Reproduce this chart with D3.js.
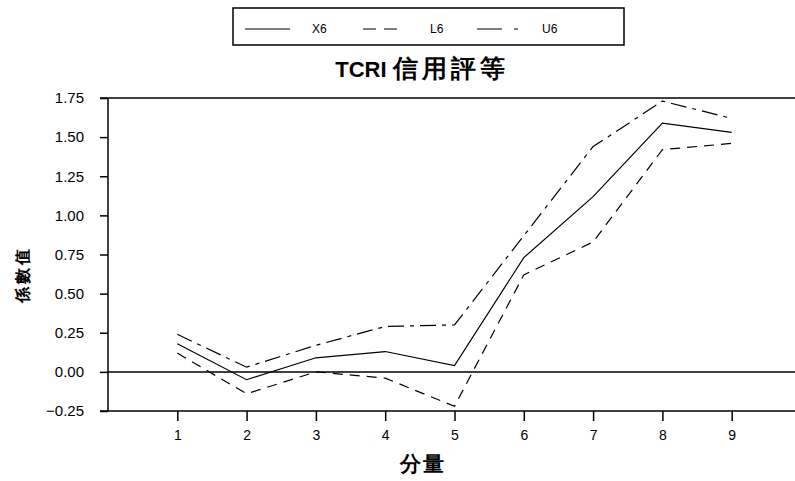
<!DOCTYPE html>
<html>
<head>
<meta charset="utf-8">
<script src="https://cdn.jsdelivr.net/npm/d3@7"></script>
<style>
  body { margin: 0; background: #fff; }
  text { font-family: "Liberation Sans", Arial, sans-serif; fill: #000; }
</style>
</head>
<body>
<svg id="chart"></svg>
<script>
/*
		 DATA
*/
var components = [1, 2, 3, 4, 5, 6, 7, 8, 9];
var x6 = [0.18, -0.05, 0.09, 0.13, 0.04, 0.73, 1.12, 1.59, 1.53];
var l6 = [0.12, -0.14, 0.00, -0.04, -0.22, 0.62, 0.83, 1.42, 1.46];
var u6 = [0.24, 0.03, 0.17, 0.29, 0.30, 0.87, 1.44, 1.73, 1.62];
var yTicks = [-0.25, 0, 0.25, 0.5, 0.75, 1, 1.25, 1.5, 1.75];
var seriesNames = ["X6", "L6", "U6"];

/*
		 LAYOUT
*/
var width = 795;
var height = 481;
var plot = {left: 108, top: 98, bottom: 411, right: 795};

var svg = d3.select("#chart")
    .attr("width", width)
    .attr("height", height);

var x = d3.scaleLinear().domain([0, 10]).range([plot.left, 801]);
var y = d3.scaleLinear().domain([-0.25, 1.75]).range([plot.bottom, plot.top]);

// frame lines: left side, top, bottom (right side stays open)
var frame = svg.append("g").attr("stroke", "#000").attr("stroke-width", 1.5);
frame.append("line").attr("x1", plot.left).attr("x2", plot.left)
    .attr("y1", y(1.75)).attr("y2", y(-0.25));
frame.append("line").attr("x1", plot.left - 8).attr("x2", plot.right)
    .attr("y1", y(1.75)).attr("y2", y(1.75));
frame.append("line").attr("x1", plot.left - 8).attr("x2", plot.right)
    .attr("y1", y(-0.25)).attr("y2", y(-0.25));
// zero reference line
frame.append("line").attr("x1", plot.left).attr("x2", plot.right)
    .attr("y1", y(0)).attr("y2", y(0));

// y axis
var yAxis = svg.append("g")
    .attr("transform", "translate(" + plot.left + ",0)")
    .call(d3.axisLeft(y).tickValues(yTicks).tickFormat(d3.format(".2f"))
        .tickSize(8).tickSizeOuter(0).tickPadding(16));
yAxis.select(".domain").remove();
yAxis.selectAll("line").attr("stroke", "#000").attr("stroke-width", 1.5);
yAxis.selectAll("text").style("font-size", "15px");

// x axis
var xAxis = svg.append("g")
    .attr("transform", "translate(0," + plot.bottom + ")")
    .call(d3.axisBottom(x).tickValues(components).tickSize(10).tickSizeOuter(0).tickPadding(9));
xAxis.select(".domain").remove();
xAxis.selectAll("line").attr("stroke", "#000").attr("stroke-width", 1.5);
xAxis.selectAll("text").style("font-size", "14px");

/*
		 LINES
*/
var dashes = {X6: null, L6: "10,7", U6: "16,6,4,6"};
var allSeries = [
  {name: "X6", values: x6},
  {name: "L6", values: l6},
  {name: "U6", values: u6}
];

var line = d3.line()
    .x(function(d, i) { return x(components[i]); })
    .y(function(d) { return y(d); });

svg.selectAll(".series")
  .data(allSeries)
  .enter().append("path")
    .attr("class", "series")
    .attr("d", function(d) { return line(d.values); })
    .attr("fill", "none")
    .attr("stroke", "#000")
    .attr("stroke-width", 1.2)
    .attr("stroke-dasharray", function(d) { return dashes[d.name]; });

/*
		 TITLES
*/
var title = svg.append("text")
    .attr("x", 422)
    .attr("y", 77)
    .attr("text-anchor", "middle")
    .style("font-weight", "bold");
title.append("tspan").style("font-size", "22px").text("TCRI ");
title.append("tspan").style("font-size", "25px").style("letter-spacing", "4px").text("信用評等");

svg.append("text")
    .attr("x", 423)
    .attr("y", 471)
    .attr("text-anchor", "middle")
    .style("font-size", "21px")
    .style("font-weight", "bold")
    .style("letter-spacing", "2px")
    .text("分量");

svg.append("text")
    .attr("transform", "translate(28,274) rotate(-90)")
    .attr("text-anchor", "middle")
    .style("font-size", "16px")
    .style("font-weight", "bold")
    .style("letter-spacing", "3px")
    .text("係數值");

/*
		 LEGEND
*/
var legend = svg.append("g");
legend.append("rect")
    .attr("x", 233).attr("y", 8)
    .attr("width", 391).attr("height", 37)
    .attr("fill", "none").attr("stroke", "#000").attr("stroke-width", 1.5);

var legendPos = [
  {line: [245, 290], text: 312},
  {line: [363, 397], text: 430},
  {line: [477, 518], text: 542}
];
var legendDash = {X6: null, L6: "13,8", U6: "25,12,5,40"};

seriesNames.forEach(function(name, i) {
  legend.append("line")
      .attr("x1", legendPos[i].line[0]).attr("x2", legendPos[i].line[1])
      .attr("y1", 29).attr("y2", 29)
      .attr("stroke", "#000").attr("stroke-width", 1.2)
      .attr("stroke-dasharray", legendDash[name]);
  legend.append("text")
      .attr("x", legendPos[i].text).attr("y", 33)
      .style("font-size", "12px")
      .text(name);
});
</script>
</body>
</html>
